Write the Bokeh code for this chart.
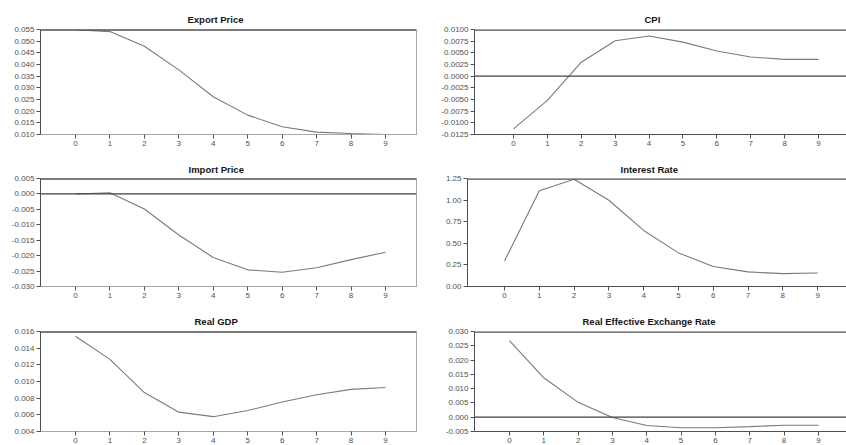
from bokeh.plotting import figure
from bokeh.models import Span, FixedTicker, NumeralTickFormatter, Range1d
from bokeh.layouts import column, row
from bokeh.embed import file_html
from bokeh.resources import INLINE

# ---- data ----
horizon = [0, 1, 2, 3, 4, 5, 6, 7, 8, 9]
x_ticks = [0, 1, 2, 3, 4, 5, 6, 7, 8, 9]

export_price = [0.0549, 0.0541, 0.0478, 0.0377, 0.0262, 0.0183, 0.0133, 0.0110, 0.0104, 0.0100]
cpi = [-0.0113, -0.0052, 0.0030, 0.0076, 0.0086, 0.0073, 0.0054, 0.0041, 0.0036, 0.0036]
import_price = [0.0000, 0.0004, -0.0049, -0.0133, -0.0206, -0.0246, -0.0254, -0.0239, -0.0213, -0.0189]
interest_rate = [0.295, 1.108, 1.242, 0.998, 0.649, 0.389, 0.232, 0.169, 0.149, 0.157]
real_gdp = [0.01543, 0.01266, 0.00867, 0.00632, 0.00578, 0.00651, 0.00753, 0.00841, 0.00905, 0.00928]
reer = [0.0268, 0.0138, 0.0052, -0.0001, -0.0029, -0.0037, -0.0037, -0.0033, -0.0028, -0.0028]

export_ticks = [0.010, 0.015, 0.020, 0.025, 0.030, 0.035, 0.040, 0.045, 0.050, 0.055]
cpi_ticks = [-0.0125, -0.0100, -0.0075, -0.0050, -0.0025, 0.0, 0.0025, 0.0050, 0.0075, 0.0100]
import_ticks = [-0.030, -0.025, -0.020, -0.015, -0.010, -0.005, 0.0, 0.005]
interest_ticks = [0.0, 0.25, 0.50, 0.75, 1.00, 1.25]
gdp_ticks = [0.004, 0.006, 0.008, 0.010, 0.012, 0.014, 0.016]
reer_ticks = [-0.005, 0.0, 0.005, 0.010, 0.015, 0.020, 0.025, 0.030]

FONT = "Liberation Sans"
DARK = "#505050"
LIGHT = "#a8a8a8"


def panel(title, y, yticks, fmt, xr, width, height, left, right, top, bottom,
          zero, right_col, title_off, standoff):
    p = figure(width=width, height=height, output_backend="svg",
               toolbar_location=None, x_range=Range1d(*xr),
               y_range=Range1d(yticks[0], yticks[-1]),
               min_border_left=left, min_border_right=right,
               min_border_top=top, min_border_bottom=bottom,
               background_fill_color="white", border_fill_color="white")
    p.title.text = title
    p.title.text_font = FONT
    p.title.text_font_style = "bold"
    p.title.text_font_size = "9.5px"
    p.title.text_color = "#151515"
    p.title.align = "left"
    p.title.offset = title_off
    p.title.standoff = standoff
    p.xgrid.visible = False
    p.ygrid.visible = False
    p.outline_line_color = None if right_col else LIGHT
    p.outline_line_width = 1

    p.xaxis.ticker = FixedTicker(ticks=x_ticks)
    p.yaxis.ticker = FixedTicker(ticks=yticks)
    p.yaxis.formatter = NumeralTickFormatter(format=fmt)
    for ax in (p.xaxis, p.yaxis):
        ax.major_label_text_font = FONT
        ax.major_label_text_font_size = "8px"
        ax.major_label_text_color = "#505050"
        ax.minor_tick_line_color = None
        ax.major_tick_in = 0
        ax.major_tick_out = 4
        ax.major_label_standoff = 2
    p.yaxis.axis_line_color = DARK
    p.yaxis.major_tick_line_color = DARK
    p.xaxis.axis_line_color = LIGHT if not right_col else DARK
    p.xaxis.major_tick_line_color = DARK

    # top border of the frame
    p.add_layout(Span(location=yticks[-1], dimension="width",
                      line_color=DARK, line_width=2.5))
    if zero:
        p.add_layout(Span(location=0, dimension="width",
                          line_color="#404040", line_width=1.2))
    p.line(horizon, y, line_color="#7a7a7a", line_width=1.1)
    return p


L_XR = (-1.016, 9.90)
p1 = panel("Export Price", export_price, export_ticks, "0.000", L_XR,
           423, 152, 40, 7, 29, 18, False, False, 147, 10)
p2 = panel("CPI", cpi, cpi_ticks, "0.0000", (-1.151, 9.826),
           423, 152, 51, 0, 29, 18, True, True, 170, 10)
p3 = panel("Import Price", import_price, import_ticks, "0.000", L_XR,
           423, 148, 40, 7, 26, 14, True, False, 148, 7)
p4 = panel("Interest Rate", interest_rate, interest_ticks, "0.00", (-1.064, 9.83),
           423, 148, 44, 0, 26, 14, False, True, 153, 7)
p5 = panel("Real GDP", real_gdp, gdp_ticks, "0.000", L_XR,
           423, 145, 40, 7, 31, 9, False, False, 154, 10)
p6 = panel("Real Effective Exchange Rate", reer, reer_ticks, "0.000", (-1.019, 9.82),
           423, 145, 51, 0, 31, 9, True, True, 108, 10)

layout = column(row(p1, p2), row(p3, p4), row(p5, p6))

open("out.html", "w").write(file_html(layout, INLINE))
